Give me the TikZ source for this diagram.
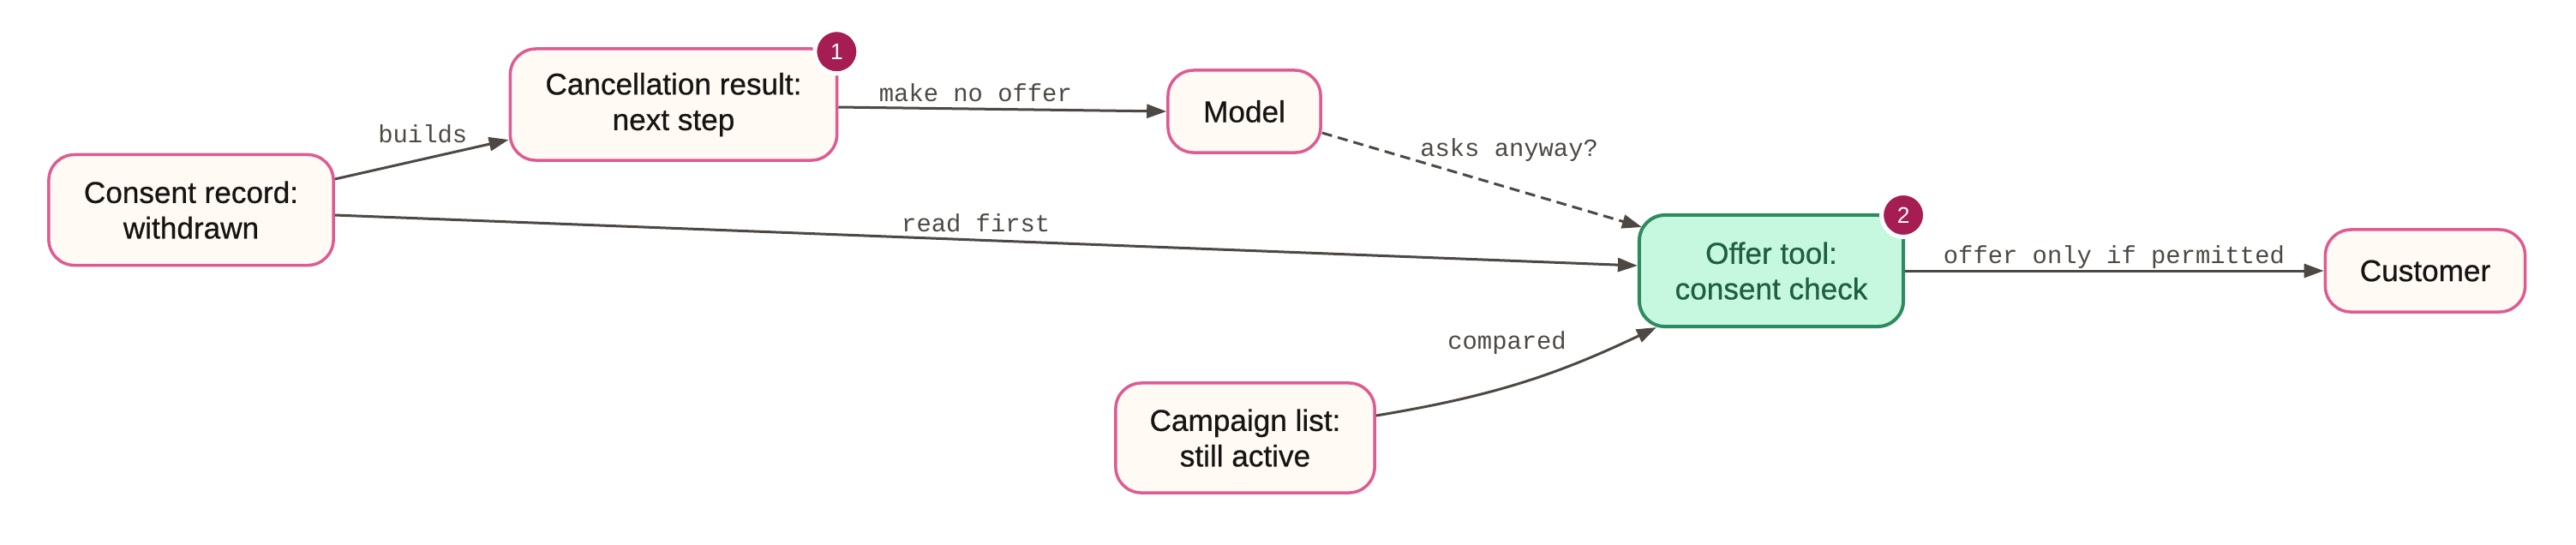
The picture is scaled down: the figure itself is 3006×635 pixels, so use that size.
\documentclass[tikz,border=0pt]{standalone}
\usepackage{fontspec}
\usetikzlibrary{arrows.meta}
\newfontfamily\nodefont[FakeBold=0.6]{Liberation Sans}
\newfontfamily\badgefont{Liberation Sans}
\newfontfamily\lblfont{Liberation Mono}
\definecolor{pinkb}{HTML}{DE5B91}
\definecolor{creamf}{HTML}{FFFAF3}
\definecolor{greenf}{HTML}{C5F8DF}
\definecolor{greenb}{HTML}{2E8B60}
\definecolor{greent}{HTML}{1F5E41}
\definecolor{edgec}{HTML}{4D4843}
\definecolor{badgec}{HTML}{A51D52}
\definecolor{textc}{HTML}{161413}
\tikzset{
  box/.style={draw=pinkb, fill=creamf, line width=0.035cm, rounded corners=0.3cm,
    align=center, inner sep=0pt, text=textc,
    font=\nodefont\fontsize{10}{11.8}\selectfont},
  gbox/.style={box, draw=greenb, fill=greenf, text=greent, line width=0.04cm},
  edge/.style={draw=edgec, line width=0.03cm, -{Triangle[length=0.23cm,width=0.16cm]}},
  lbl/.style={anchor=base, text=edgec, inner sep=0pt, font=\lblfont\fontsize{8.2}{9}\selectfont},
  badge/.style={circle, fill=badgec, draw=white, line width=0.05cm, minimum size=0.51cm,
    inner sep=0pt, text=white, font=\badgefont\fontsize{7.5}{8}\selectfont}
}
\begin{document}
\begin{tikzpicture}[x=0.01cm, y=-0.01cm]
\useasboundingbox (0,0) rectangle (3006,635);
\node[box, minimum width=3.32cm, minimum height=1.29cm] (consent) at (223,245) {Consent record:\\withdrawn};
\node[box, minimum width=3.81cm, minimum height=1.30cm] (cancel) at (786,122) {Cancellation result:\\next step};
\node[box, minimum width=1.78cm, minimum height=0.96cm] (model) at (1452,130) {Model};
\node[gbox, minimum width=3.08cm, minimum height=1.30cm] (offer) at (2067,316) {Offer tool:\\consent check};
\node[box, minimum width=2.33cm, minimum height=0.96cm] (customer) at (2830,316) {Customer};
\node[box, minimum width=3.02cm, minimum height=1.28cm] (campaign) at (1453,511) {Campaign list:\\still active};

\draw[edge] ([yshift=0.36cm]consent.east) -- node[lbl, pos=0.505, yshift=0.19cm] {builds} ([yshift=-0.41cm]cancel.west);
\draw[edge] ([yshift=-0.06cm]consent.east) -- node[lbl, pos=0.492, yshift=0.10cm] {read first} ([yshift=0.06cm]offer.west);
\draw[edge] ([yshift=-0.03cm]cancel.east) -- node[lbl, pos=0.418, yshift=0.09cm] {make no offer} (model.west);
\draw[edge, dash pattern=on 0.12cm off 0.07cm] ([yshift=-0.25cm]model.east) -- node[lbl, pos=0.585, yshift=0.37cm] {asks anyway?} ([xshift=0.05cm,yshift=0.51cm]offer.west);
\draw[edge] ([yshift=0.26cm]campaign.east) to[bend right=8] node[lbl, pos=0.5, xshift=-0.15cm, yshift=0.39cm] {compared} ([xshift=0.22cm,yshift=0.01cm]offer.south west);
\draw[edge] (offer.east) -- node[lbl, pos=0.499, yshift=0.09cm] {offer only if permitted} (customer.west);

\node[badge] (b1) at ([xshift=-0.02cm,yshift=-0.05cm]cancel.north east) {1};
\node[badge] (b2) at ([xshift=-0.02cm,yshift=-0.02cm]offer.north east) {2};
\end{tikzpicture}
\end{document}
